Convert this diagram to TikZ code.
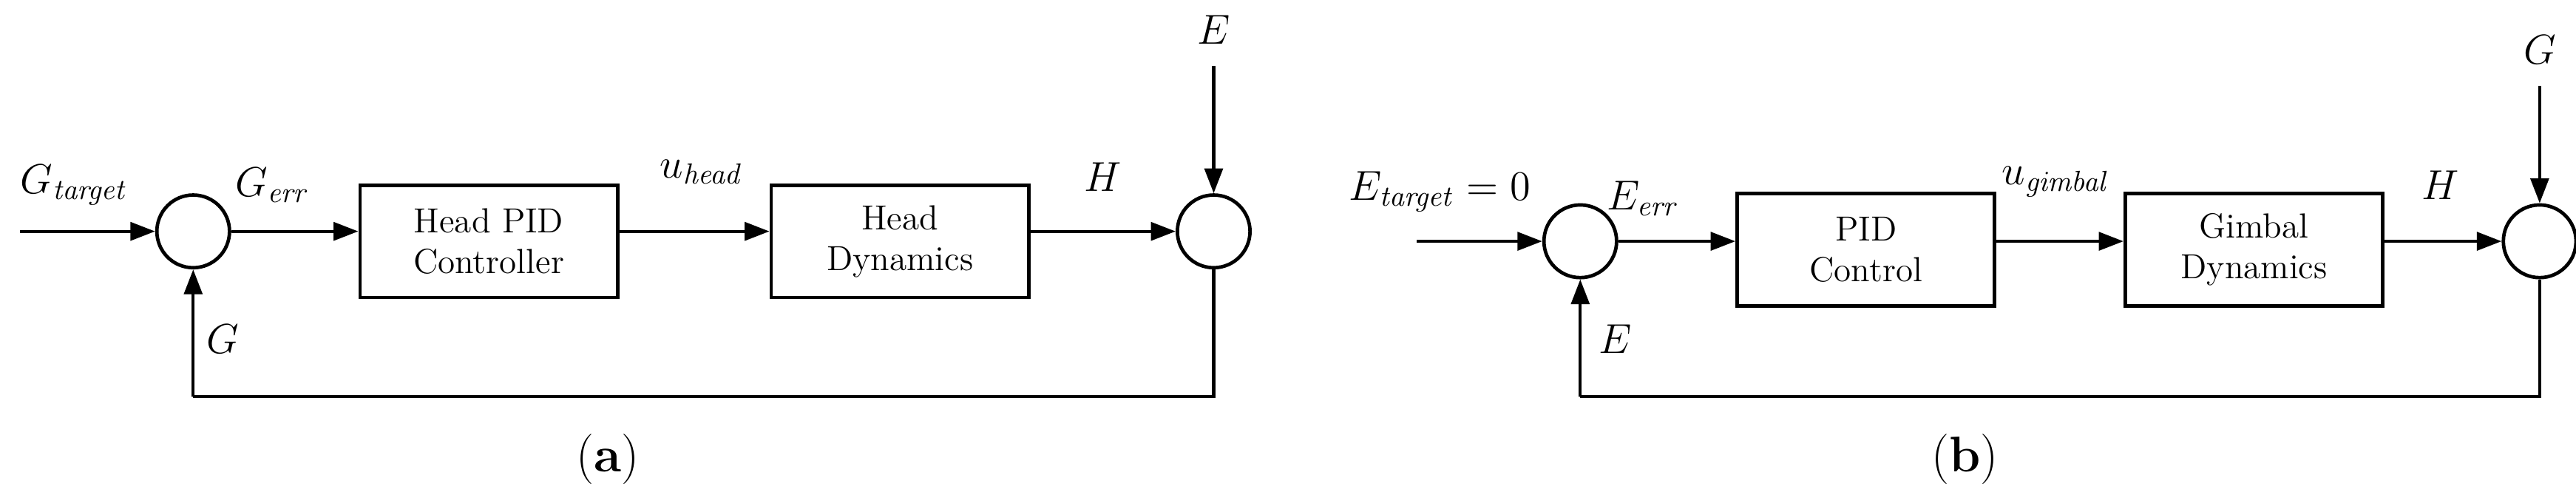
\documentclass[tikz,border=0pt]{standalone}
\usepackage{tikz}
\usetikzlibrary{arrows.meta}
\begin{document}
\begin{tikzpicture}
[x=0.02cm,y=-0.02cm,->,>={Triangle[length=3mm,width=2.2mm]},thick,line width=1.1pt,
block/.style={draw,rectangle,line width=1.2pt,minimum width=31.2mm,minimum height=13.6mm,align=center,font=\large},
sum/.style={draw,circle,line width=1.2pt,inner sep=0pt,minimum size=8.8mm},
lbl/.style={font=\Large}]
\useasboundingbox (0,0) rectangle (1560,301);
% (a)
\coordinate (ain) at (12,140);
\node[sum]   at (117,140) (as1) {};
\node[block] at (296,146) (apid) {Head PID\\Controller};
\node[block] at (545,146) (adyn) {Head\\Dynamics};
\node[sum]   at (735,140) (as2) {};
\coordinate (aE) at (735,40);
\coordinate (afb) at (735,240);
\coordinate (afbl) at (117,240);
\draw (ain) -- (as1);
\draw (as1) -- (as1 -| apid.west);
\draw (as1 -| apid.east) -- (as1 -| adyn.west);
\draw (as1 -| adyn.east) -- (as2);
\draw (aE) -- (as2);
\draw[-] (as2) -- (afb) -- (afbl);
\draw (afbl) -- (as1);
\node[lbl] at (45,112) {$G_{\mathit{target}}$};
\node[lbl] at (165,112) {$G_{\mathit{err}}$};
\node[lbl] at (425,104) {$u_{\mathit{head}}$};
\node[lbl] at (668,107) {$H$};
\node[lbl] at (735,18) {$E$};
\node[lbl] at (135,205) {$G$};
\node[font=\LARGE] at (368,278) {(\textbf{a})};
% (b)
\coordinate (bin) at (858,146);
\node[sum]   at (957,146) (bs1) {};
\node[block] at (1130,151) (bpid) {PID\\Control};
\node[block] at (1365,151) (bdyn) {Gimbal\\Dynamics};
\node[sum]   at (1538,146) (bs2) {};
\coordinate (bG) at (1538,52);
\coordinate (bfb) at (1538,240);
\coordinate (bfbl) at (957,240);
\draw (bin) -- (bs1);
\draw (bs1) -- (bs1 -| bpid.west);
\draw (bs1 -| bpid.east) -- (bs1 -| bdyn.west);
\draw (bs1 -| bdyn.east) -- (bs2);
\draw (bG) -- (bs2);
\draw[-] (bs2) -- (bfb) -- (bfbl);
\draw (bfbl) -- (bs1);
\node[lbl] at (872,116) {$E_{\mathit{target}}=0$};
\node[lbl] at (995,120) {$E_{\mathit{err}}$};
\node[lbl] at (1245,110) {$u_{\mathit{gimbal}}$};
\node[lbl] at (1478,112) {$H$};
\node[lbl] at (1538,30) {$G$};
\node[lbl] at (978,205) {$E$};
\node[font=\LARGE] at (1190,278) {(\textbf{b})};
\end{tikzpicture}
\end{document}
